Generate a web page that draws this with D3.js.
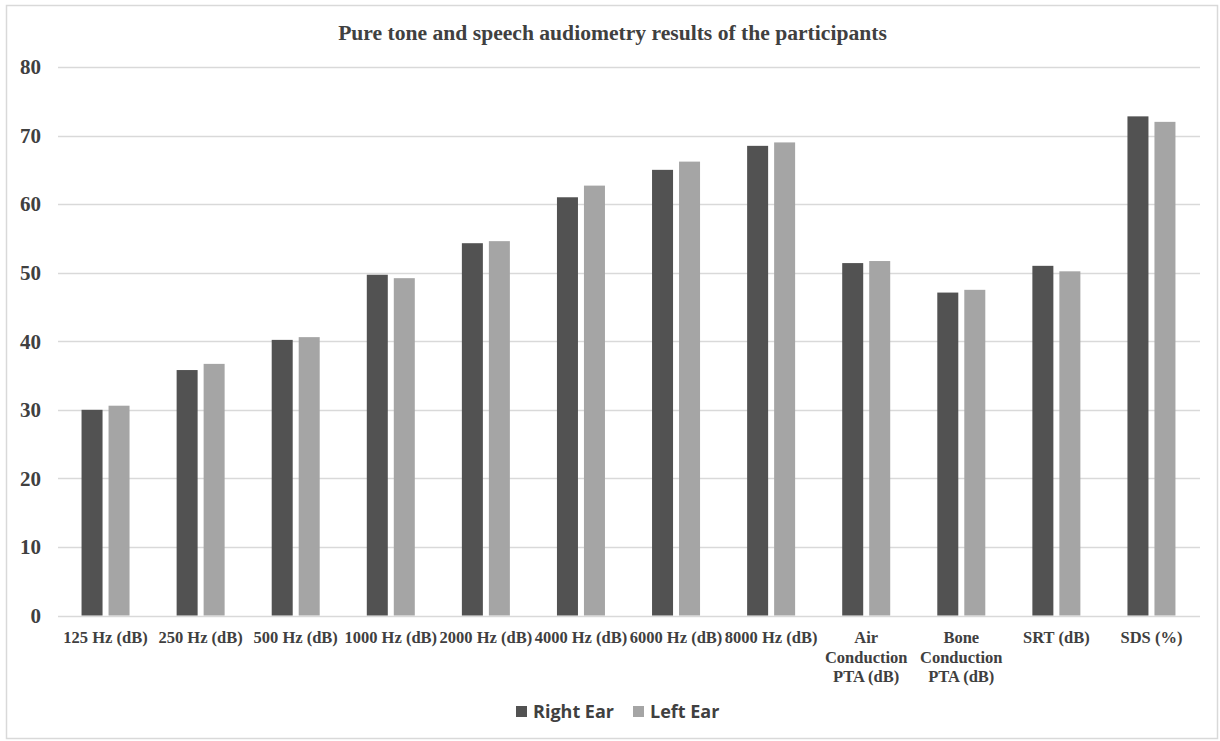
<!DOCTYPE html>
<html>
<head>
<meta charset="utf-8">
<script src="https://cdn.jsdelivr.net/npm/d3@7"></script>
<style>
  body { margin: 0; background: #ffffff; }
  .title { font-family: "Liberation Serif", "Times New Roman", serif; font-weight: bold; font-size: 21.6px; fill: #404040; }
  .ytick { font-family: "Liberation Serif", "Times New Roman", serif; font-weight: bold; font-size: 21px; fill: #404040; }
  .xlabel { font-family: "Liberation Serif", "Times New Roman", serif; font-weight: bold; font-size: 16.5px; fill: #404040; }
  .legendtext { font-family: "Open Sans", sans-serif; font-weight: bold; font-size: 18px; fill: #404040; }
</style>
</head>
<body>
<div id="chart"></div>
<script>
// categories (multi-line labels kept as arrays of lines)
const categories = [
    ["125 Hz (dB)"], ["250 Hz (dB)"], ["500 Hz (dB)"], ["1000 Hz (dB)"],
    ["2000 Hz (dB)"], ["4000 Hz (dB)"], ["6000 Hz (dB)"], ["8000 Hz (dB)"],
    ["Air", "Conduction", "PTA (dB)"], ["Bone", "Conduction", "PTA (dB)"],
    ["SRT (dB)"], ["SDS (%)"]
];
const rightEar = [30.0, 35.8, 40.2, 49.7, 54.3, 61.0, 65.0, 68.5, 51.4, 47.1, 51.0, 72.8];
const leftEar  = [30.6, 36.7, 40.6, 49.2, 54.6, 62.7, 66.2, 69.0, 51.7, 47.5, 50.2, 72.0];
const seriesNames = ["Right Ear", "Left Ear"];
const seriesColors = ["#525252", "#a5a5a5"];
const yTicks = [0, 10, 20, 30, 40, 50, 60, 70, 80];
const chartTitle = "Pure tone and speech audiometry results of the participants";

const width = 1220, height = 741;
const margin = {top: 67, right: 20, bottom: 125, left: 58};

let svg = d3.select("#chart").append("svg")
    .attr("width", width)
    .attr("height", height);

// outer chart border
svg.append("rect")
    .attr("x", 6.5).attr("y", 5.5)
    .attr("width", 1211).attr("height", 733)
    .attr("fill", "#ffffff")
    .attr("stroke", "#d9d9d9")
    .attr("stroke-width", 1.5);

svg.append("text")
    .attr("class", "title")
    .attr("x", 612.5)
    .attr("y", 40)
    .attr("text-anchor", "middle")
    .text(chartTitle);

let keys = categories.map(d => d.join(" "));

let x0 = d3.scaleBand()
    .domain(keys)
    .range([margin.left, width - margin.right - 1]);

// two bars of 21px with a 6px gap, centred in each band
const groupW = 48;
let x1 = d3.scaleBand()
    .domain(seriesNames)
    .range([(x0.bandwidth() - groupW) / 2, (x0.bandwidth() + groupW) / 2])
    .paddingInner(0.2222);

let y = d3.scaleLinear()
    .domain([0, 80])
    .range([height - margin.bottom - 0.5, margin.top]);

// gridlines
svg.append("g").selectAll("line").data(yTicks).enter().append("line")
    .attr("x1", margin.left)
    .attr("x2", width - margin.right)
    .attr("y1", d => Math.round(y(d)) + 0.5)
    .attr("y2", d => Math.round(y(d)) + 0.5)
    .attr("stroke", "#d9d9d9")
    .attr("stroke-width", 1.5);

// y tick labels
svg.append("g").selectAll("text").data(yTicks).enter().append("text")
    .attr("class", "ytick")
    .attr("x", 41)
    .attr("y", d => y(d))
    .attr("dy", "0.35em")
    .attr("text-anchor", "end")
    .text(d => d);

// bars
let rows = keys.map((k, i) => ({key: k, values: [rightEar[i], leftEar[i]]}));
let groups = svg.append("g").selectAll("g").data(rows).enter().append("g")
    .attr("transform", d => "translate(" + x0(d.key) + ",0)");

groups.selectAll("rect")
    .data(d => d.values.map((v, j) => ({name: seriesNames[j], value: v, idx: j})))
    .enter().append("rect")
    .attr("x", d => x1(d.name))
    .attr("y", d => y(d.value))
    .attr("width", x1.bandwidth())
    .attr("height", d => y(0) - y(d.value))
    .attr("fill", d => seriesColors[d.idx]);

// category labels
let labels = svg.append("g").selectAll("text").data(categories).enter().append("text")
    .attr("class", "xlabel")
    .attr("text-anchor", "middle")
    .attr("x", (d, i) => x0(keys[i]) + x0.bandwidth() / 2)
    .attr("y", 643);

labels.selectAll("tspan").data(d => d).enter().append("tspan")
    .attr("x", function() { return this.parentNode.getAttribute("x"); })
    .attr("dy", (d, i) => i === 0 ? 0 : 19.5)
    .text(d => d);

// legend
let legendX = [516, 633];
let legend = svg.append("g").selectAll("g").data(seriesNames).enter().append("g")
    .attr("transform", (d, i) => "translate(" + legendX[i] + ",706)");

legend.append("rect")
    .attr("width", 11).attr("height", 11)
    .attr("fill", (d, i) => seriesColors[i]);

legend.append("text")
    .attr("class", "legendtext")
    .attr("x", 17)
    .attr("y", 12)
    .text(d => d);
</script>
</body>
</html>
